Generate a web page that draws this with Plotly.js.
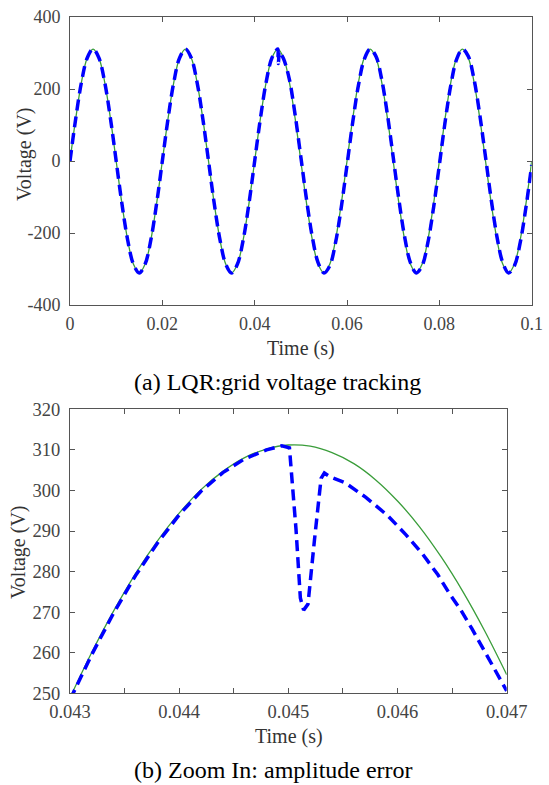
<!DOCTYPE html>
<html>
<head>
<meta charset="utf-8">
<script src="https://cdn.plot.ly/plotly-3.0.1.min.js"></script>
<style>
  html, body { margin: 0; padding: 0; background: #ffffff; }
  #chart { width: 549px; height: 785px; }
</style>
</head>
<body>
<div id="chart"></div>
<script>
// ---------- Data ----------
// (a) full view, 0 .. 0.1 s
const timeTop = [0, 0.00125, 0.0025, 0.00375, 0.005, 0.00625, 0.0075, 0.00875, 0.01, 0.01125, 0.0125, 0.01375, 0.015, 0.01625, 0.0175, 0.01875,
  0.02, 0.02125, 0.0225, 0.02375, 0.025, 0.02625, 0.0275, 0.02875, 0.03, 0.03125, 0.0325, 0.03375, 0.035, 0.03625, 0.0375, 0.03875,
  0.04, 0.04125, 0.0425, 0.04375, 0.045, 0.04625, 0.0475, 0.04875, 0.05, 0.05125, 0.0525, 0.05375, 0.055, 0.05625, 0.0575, 0.05875,
  0.06, 0.06125, 0.0625, 0.06375, 0.065, 0.06625, 0.0675, 0.06875, 0.07, 0.07125, 0.0725, 0.07375, 0.075, 0.07625, 0.0775, 0.07875,
  0.08, 0.08125, 0.0825, 0.08375, 0.085, 0.08625, 0.0875, 0.08875, 0.09, 0.09125, 0.0925, 0.09375, 0.095, 0.09625, 0.0975, 0.09875, 0.1];
const gridVoltageTop = [0, 119, 220, 287, 311, 287, 220, 119, 0, -119, -220, -287, -311, -287, -220, -119,
  0, 119, 220, 287, 311, 287, 220, 119, 0, -119, -220, -287, -311, -287, -220, -119,
  0, 119, 220, 287, 311, 287, 220, 119, 0, -119, -220, -287, -311, -287, -220, -119,
  0, 119, 220, 287, 311, 287, 220, 119, 0, -119, -220, -287, -311, -287, -220, -119,
  0, 119, 220, 287, 311, 287, 220, 119, 0, -119, -220, -287, -311, -287, -220, -119, 0];
const timeTopLqr = [0, 0.00125, 0.0025, 0.00375, 0.005, 0.00625, 0.0075, 0.00875, 0.01, 0.01125, 0.0125, 0.01375, 0.015, 0.01625, 0.0175, 0.01875,
  0.02, 0.02125, 0.0225, 0.02375, 0.025, 0.02625, 0.0275, 0.02875, 0.03, 0.03125, 0.0325, 0.03375, 0.035, 0.03625, 0.0375, 0.03875,
  0.04, 0.04125, 0.0425, 0.04375, 0.045, 0.04507, 0.04514, 0.04522, 0.04532,
  0.04625, 0.0475, 0.04875, 0.05, 0.05125, 0.0525, 0.05375, 0.055, 0.05625, 0.0575, 0.05875,
  0.06, 0.06125, 0.0625, 0.06375, 0.065, 0.06625, 0.0675, 0.06875, 0.07, 0.07125, 0.0725, 0.07375, 0.075, 0.07625, 0.0775, 0.07875,
  0.08, 0.08125, 0.0825, 0.08375, 0.085, 0.08625, 0.0875, 0.08875, 0.09, 0.09125, 0.0925, 0.09375, 0.095, 0.09625, 0.0975, 0.09875, 0.1];
const lqrVoltageTop = [0, 119, 220, 287, 311, 287, 220, 119, 0, -119, -220, -287, -311, -287, -220, -119,
  0, 119, 220, 287, 311, 287, 220, 119, 0, -119, -220, -287, -311, -287, -220, -119,
  0, 119, 220, 287, 311, 290, 270.5, 288, 304,
  284, 227.5, 129, 10.9, -108.9, -212.1, -283, -310.8, -291.3, -227.5, -129,
  -10.9, 108.9, 212.1, 283, 310.8, 291.3, 227.5, 129, 10.9, -108.9, -212.1, -283, -310.8, -291.3, -227.5, -129,
  -10.9, 108.9, 212.1, 283, 310.8, 291.3, 227.5, 129, 10.9, -108.9, -212.1, -283, -310.8, -291.3, -227.5, -129, -10.9];

// (b) zoom 0.043 .. 0.047 s
const timeZoom = [0.043, 0.0432, 0.0434, 0.0436, 0.0438, 0.044, 0.0442, 0.0444, 0.0446, 0.0448, 0.045,
  0.0452, 0.0454, 0.0456, 0.0458, 0.046, 0.0462, 0.0464, 0.0466, 0.0468, 0.047];
const gridVoltageZoom = [248.9, 260.1, 270.3, 279.5, 287.5, 294.4, 300.2, 304.7, 308.1, 310.2, 311.2,
  310.9, 309.3, 306.6, 302.6, 297.4, 291.1, 283.6, 275.0, 265.3, 254.6];
const timeZoomLqr = [0.043, 0.0432, 0.0434, 0.0436, 0.0438, 0.044, 0.0442, 0.0444, 0.0446, 0.0448, 0.04494, 0.04501,
  0.04507, 0.04511, 0.04514, 0.04518, 0.04524, 0.0453, 0.04533, 0.04538,
  0.04552, 0.04571, 0.04591, 0.04608, 0.04623, 0.04637, 0.04647, 0.04658, 0.04668, 0.04679, 0.047];
const lqrVoltageZoom = [248.4, 259.6, 269.8, 279.0, 287.0, 294.0, 299.8, 304.4, 307.8, 310.0, 311.0, 310.5,
  290.5, 273.5, 270.5, 272.0, 288.0, 303.0, 304.3, 303.4,
  301.9, 298.3, 293.8, 289.0, 284.3, 279.2, 274.8, 270.5, 266.0, 260.7, 250.6];

// tick labels
const topXTicks = [0, 0.02, 0.04, 0.06, 0.08, 0.1];
const topXLabels = ['0', '0.02', '0.04', '0.06', '0.08', '0.1'];
const topYTicks = [-400, -200, 0, 200, 400];
const topYLabels = ['-400', '-200', '0', '200', '400'];
const zoomXTicks = [0.043, 0.0435, 0.044, 0.0445, 0.045, 0.0455, 0.046, 0.0465, 0.047];
const zoomXLabels = ['0.043', '', '0.044', '', '0.045', '', '0.046', '', '0.047'];
const zoomYTicks = [250, 260, 270, 280, 290, 300, 310, 320];
const zoomYLabels = ['250', '260', '270', '280', '290', '300', '310', '320'];

// ---------- Styles ----------
const W = 549, H = 785;
const serif = '"Liberation Serif", "Times New Roman", serif';
const green = '#3a9d3a';
const blue = '#0000ff';
const frame = '#555555';
const tickText = '#444444';

const px = v => v / W;
const py = v => 1 - v / H;

const traces = [
  { x: timeTop, y: gridVoltageTop, xaxis: 'x', yaxis: 'y', type: 'scatter', mode: 'lines',
    line: { color: green, width: 1.3, shape: 'spline' }, name: 'grid' },
  { x: timeTopLqr, y: lqrVoltageTop, xaxis: 'x', yaxis: 'y', type: 'scatter', mode: 'lines',
    line: { color: blue, width: 3.5, dash: '11px,6px', shape: 'spline' }, name: 'LQR' },
  { x: timeZoom, y: gridVoltageZoom, xaxis: 'x2', yaxis: 'y2', type: 'scatter', mode: 'lines',
    line: { color: green, width: 1.3, shape: 'spline' }, name: 'grid' },
  { x: timeZoomLqr, y: lqrVoltageZoom, xaxis: 'x2', yaxis: 'y2', type: 'scatter', mode: 'lines',
    line: { color: blue, width: 3.5, dash: '11px,6px' }, name: 'LQR' }
];

function axisBase(extra) {
  return Object.assign({
    showgrid: false, zeroline: false, showline: true, linecolor: frame, linewidth: 1,
    mirror: 'ticks', ticks: 'inside', ticklen: 5, tickwidth: 1, tickcolor: frame,
    tickfont: { family: serif, size: 18, color: tickText }, tickmode: 'array', fixedrange: true
  }, extra);
}

const layout = {
  width: W, height: H,
  margin: { l: 0, r: 0, t: 0, b: 0 },
  paper_bgcolor: '#ffffff', plot_bgcolor: '#ffffff',
  showlegend: false,
  xaxis: axisBase({ domain: [px(70), px(531.7)], range: [0, 0.1], anchor: 'y',
    tickvals: topXTicks, ticktext: topXLabels, ticklabelstandoff: 2 }),
  yaxis: axisBase({ domain: [py(305), py(17)], range: [-400, 400], anchor: 'x',
    tickvals: topYTicks, ticktext: topYLabels, ticklabelstandoff: 5 }),
  xaxis2: axisBase({ domain: [px(70), px(506.7)], range: [0.043, 0.047], anchor: 'y2',
    tickvals: zoomXTicks, ticktext: zoomXLabels, ticklabelstandoff: 1,
    tickfont: { family: serif, size: 18.5, color: tickText } }),
  yaxis2: axisBase({ domain: [py(693.3), py(409.3)], range: [250, 320], anchor: 'x2',
    tickvals: zoomYTicks, ticktext: zoomYLabels, ticklabelstandoff: 5,
    tickfont: { family: serif, size: 18.5, color: tickText } }),
  annotations: [
    { text: 'Voltage (V)', xref: 'paper', yref: 'paper', x: px(25), y: py(154), textangle: -90,
      showarrow: false, xanchor: 'center', yanchor: 'middle', font: { family: serif, size: 20, color: '#333333' } },
    { text: 'Time (s)', xref: 'paper', yref: 'paper', x: px(301), y: py(348),
      showarrow: false, xanchor: 'center', yanchor: 'middle', font: { family: serif, size: 20, color: '#333333' } },
    { text: '(a) LQR:grid voltage tracking', xref: 'paper', yref: 'paper', x: px(277.5), y: py(382),
      showarrow: false, xanchor: 'center', yanchor: 'middle', font: { family: serif, size: 24, color: '#000000' } },
    { text: 'Voltage (V)', xref: 'paper', yref: 'paper', x: px(18), y: py(552), textangle: -90,
      showarrow: false, xanchor: 'center', yanchor: 'middle', font: { family: serif, size: 20, color: '#333333' } },
    { text: 'Time (s)', xref: 'paper', yref: 'paper', x: px(289), y: py(736),
      showarrow: false, xanchor: 'center', yanchor: 'middle', font: { family: serif, size: 20, color: '#333333' } },
    { text: '(b) Zoom In: amplitude error', xref: 'paper', yref: 'paper', x: px(273.5), y: py(770),
      showarrow: false, xanchor: 'center', yanchor: 'middle', font: { family: serif, size: 24, color: '#000000' } }
  ]
};

Plotly.newPlot('chart', traces, layout, { staticPlot: true, displayModeBar: false });
</script>
</body>
</html>
